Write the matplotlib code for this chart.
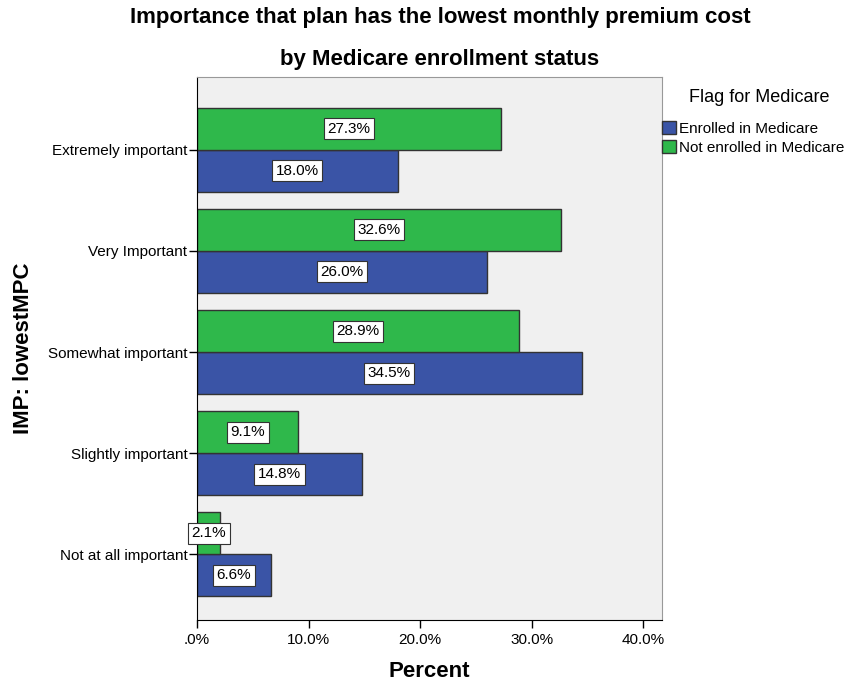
import numpy as np
import matplotlib.pyplot as plt

plt.rcParams['font.family'] = ['Liberation Sans', 'DejaVu Sans']

categories = ['Extremely important', 'Very Important', 'Somewhat important',
              'Slightly important', 'Not at all important']
enrolled = [18.0, 26.0, 34.5, 14.8, 6.6]
not_enrolled = [27.3, 32.6, 28.9, 9.1, 2.1]
series_names = ['Enrolled in Medicare', 'Not enrolled in Medicare']
blue = '#3a54a6'
green = '#2fb84b'

fig = plt.figure(figsize=(8.51, 6.88), dpi=100)
ax = fig.add_axes([197 / 851, 68 / 688, 465 / 851, 543 / 688])
ax.set_facecolor('#f0f0f0')

y = np.arange(len(categories))
h = 0.415
b1 = ax.barh(y + h / 2, enrolled, height=h, color=blue, edgecolor='#333333', linewidth=1)
b2 = ax.barh(y - h / 2, not_enrolled, height=h, color=green, edgecolor='#333333', linewidth=1)

# value labels centred in each bar
for bars, vals in [(b1, enrolled), (b2, not_enrolled)]:
    for bar, v in zip(bars, vals):
        ax.text(v / 2, bar.get_y() + bar.get_height() / 2, f'{v:.1f}%',
                ha='center', va='center', fontsize=11,
                bbox=dict(facecolor='white', edgecolor='#333333', linewidth=0.8, pad=2.5))

ax.set_ylim(len(categories) - 1 + 0.65, -0.72)
ax.set_xlim(0, 41.7)
ax.set_yticks(y)
ax.set_yticklabels(categories, fontsize=11)
ax.set_xticks([0, 10, 20, 30, 40])
ax.set_xticklabels(['.0%', '10.0%', '20.0%', '30.0%', '40.0%'], fontsize=11)
ax.tick_params(axis='both', direction='out', length=6, width=1, color='black')
ax.tick_params(axis='y', pad=1)

for s in ['top', 'right']:
    ax.spines[s].set_color('#999999')
for s in ['left', 'bottom']:
    ax.spines[s].set_color('black')

ax.set_xlabel('Percent', fontsize=16, fontweight='bold', labelpad=10)
ax.set_ylabel('IMP: lowestMPC', fontsize=16, fontweight='bold', labelpad=10)

fig.text(440 / 851, 1 - 18 / 688, 'Importance that plan has the lowest monthly premium cost',
         ha='center', va='center', fontsize=16, fontweight='bold')
fig.text(440 / 851, 1 - 60 / 688, 'by Medicare enrollment status',
         ha='center', va='center', fontsize=16, fontweight='bold')

fig.text(759 / 851, 1 - 98 / 688, 'Flag for Medicare', ha='center', va='center', fontsize=13)
leg = fig.legend([b1, b2], series_names, loc='upper left',
                 bbox_to_anchor=(662 / 851, 1 - 121 / 688), frameon=False,
                 fontsize=11, handlelength=0.9, handleheight=0.9,
                 handletextpad=0.2, borderpad=0, borderaxespad=0, labelspacing=0.3)

fig.savefig('out.png', dpi=100)
